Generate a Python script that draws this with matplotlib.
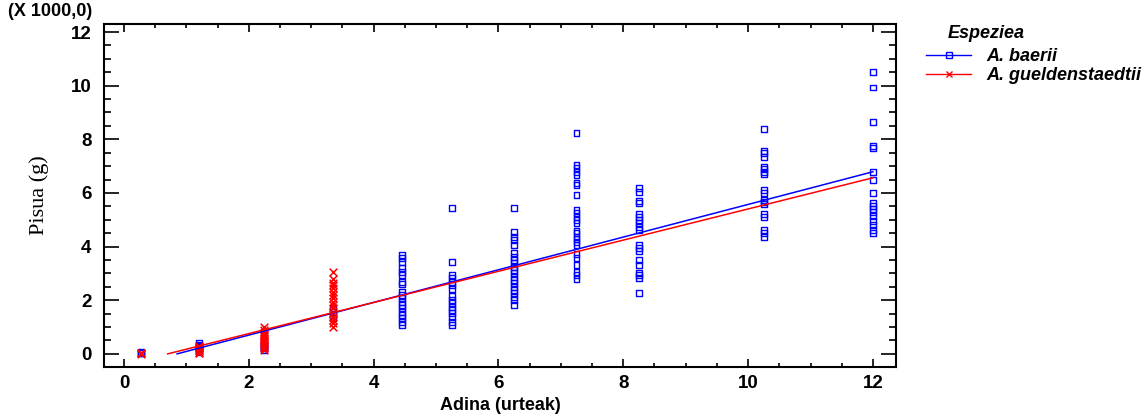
import numpy as np
import matplotlib.pyplot as plt
from matplotlib.ticker import MultipleLocator

# ages (years) and weights (x1000 g)
baerii_age = [0.27] * 3 + [1.2] * 8 + [2.25] * 6 + [3.35] * 4 + [4.45] * 19 + [5.25] * 16 \
    + [6.25] * 21 + [7.25] * 25 + [8.25] * 19 + [10.25] * 18 + [12.0] * 17
baerii_w = [0.02, 0.04, 0.06,
            0.4, 0.35, 0.3, 0.25, 0.2, 0.15, 0.1, 0.05,
            0.15, 0.2, 0.25, 0.3, 0.35, 0.5,
            1.72, 1.57, 1.46, 1.34,
            3.69, 3.58, 3.43, 3.21, 3.06, 2.95, 2.69, 2.61, 2.31, 2.2, 2.09, 1.94, 1.83, 1.72,
            1.57, 1.46, 1.34, 1.19, 1.08,
            5.45, 3.43, 2.95, 2.84, 2.69, 2.57, 2.43, 2.16, 2.01, 1.9, 1.75, 1.64, 1.53, 1.38,
            1.19, 1.08,
            5.45, 4.55, 4.37, 4.25, 4.07, 3.77, 3.62, 3.51, 3.4, 3.25, 3.13, 3.02, 2.87, 2.76,
            2.65, 2.5, 2.39, 2.28, 2.13, 2.01, 1.83,
            8.25, 7.05, 6.94, 6.79, 6.68, 6.38, 6.31, 5.93, 5.37, 5.26, 5.11, 5.0, 4.89, 4.59,
            4.51, 4.37, 4.29, 4.18, 4.07, 3.73, 3.58, 3.32, 3.06, 2.95, 2.8,
            6.19, 6.05, 5.71, 5.63, 5.22, 5.11, 5.0, 4.89, 4.74, 4.63, 4.07, 3.96, 3.84, 3.51,
            3.32, 3.02, 2.95, 2.84, 2.28,
            8.4, 7.57, 7.5, 7.35, 6.98, 6.9, 6.79, 6.72, 6.12, 6.0, 5.75, 5.67, 5.6, 5.22, 5.11,
            4.63, 4.51, 4.37,
            10.52, 9.93, 8.66, 7.76, 7.69, 6.79, 6.49, 6.0, 5.63, 5.52, 5.41, 5.3, 5.15, 4.96,
            4.81, 4.63, 4.51]

guel_age = [0.27] * 3 + [1.2] * 7 + [2.25] * 16 + [3.35] * 16
guel_w = [0.01, 0.03, 0.05,
          0.3, 0.25, 0.2, 0.15, 0.1, 0.05, 0.02,
          1.0, 0.9, 0.8, 0.75, 0.7, 0.65, 0.6, 0.55, 0.5, 0.45, 0.4, 0.35, 0.3, 0.25, 0.2, 0.15,
          3.06, 2.8, 2.65, 2.57, 2.46, 2.31, 2.2, 2.09, 1.94, 1.83, 1.72, 1.53, 1.38, 1.27,
          1.16, 1.0]

# fitted lines: intercept, slope, x range
baerii_fit = (-0.518, 0.609, 0.85, 12.0)
guel_fit = (-0.407, 0.581, 0.70, 12.0)

plt.rcParams['font.family'] = ['Liberation Sans', 'DejaVu Sans']

fig = plt.figure(figsize=(11.48, 4.18), dpi=100)
ax = fig.add_axes([0.0906, 0.122, 0.6899, 0.8206])

ax.scatter(baerii_age, baerii_w, marker='s', s=18, facecolors='none',
           edgecolors='#0000ff', linewidths=1.0, zorder=3)
ax.scatter(guel_age, guel_w, marker='x', s=30, color='#ff0000', linewidths=1.1, zorder=3)

for (a, b, x0, x1), col in [(baerii_fit, '#0000ff'), (guel_fit, '#ff0000')]:
    xs = np.array([x0, x1])
    ax.plot(xs, a + b * xs, color=col, lw=1.1, zorder=4)

# legend handles
ax.plot([], [], color='#0000ff', lw=1.0, marker='s', ms=4, mfc='none', label='A. baerii')
ax.plot([], [], color='#ff0000', lw=1.0, marker='x', ms=5, label='A. gueldenstaedtii')
leg = ax.legend(loc='upper left', bbox_to_anchor=(926 / 1148, 1 - 48 / 418),
                bbox_transform=fig.transFigure, frameon=False,
                prop={'weight': 'bold', 'style': 'italic', 'size': 13},
                handlelength=2.5, handletextpad=0.85, borderpad=0.0,
                borderaxespad=0.0, labelspacing=0.12)
fig.text(948 / 1148, 1 - 33 / 418, 'Espeziea', fontsize=13, fontweight='bold',
         style='italic', va='center')

ax.set_xlim(-0.32, 12.37)
ax.set_ylim(-0.49, 12.3)
ax.xaxis.set_major_locator(MultipleLocator(2))
ax.xaxis.set_minor_locator(MultipleLocator(0.5))
ax.yaxis.set_major_locator(MultipleLocator(2))
ax.yaxis.set_minor_locator(MultipleLocator(0.5))

ax.tick_params(axis='both', which='both', direction='in', top=True, right=True, width=1.2)
ax.tick_params(axis='x', which='major', length=6, pad=6)
ax.tick_params(axis='x', which='minor', length=3)
ax.tick_params(axis='y', which='major', length=11, pad=9)
ax.tick_params(axis='y', which='minor', length=5)
for lab in ax.get_xticklabels() + ax.get_yticklabels():
    lab.set_fontweight('bold')
    lab.set_fontsize(13.5)
for sp in ax.spines.values():
    sp.set_linewidth(1.5)

ax.set_xlabel('Adina (urteak)', fontsize=13, fontweight='bold', labelpad=3)
ax.set_ylabel('Pisua (g)', family=['Liberation Serif'], fontsize=16, labelpad=16)
fig.text(0.007, 1 - 11 / 418, '(X 1000,0)', fontsize=13, fontweight='bold', va='center')

fig.savefig('out.png', dpi=100)
